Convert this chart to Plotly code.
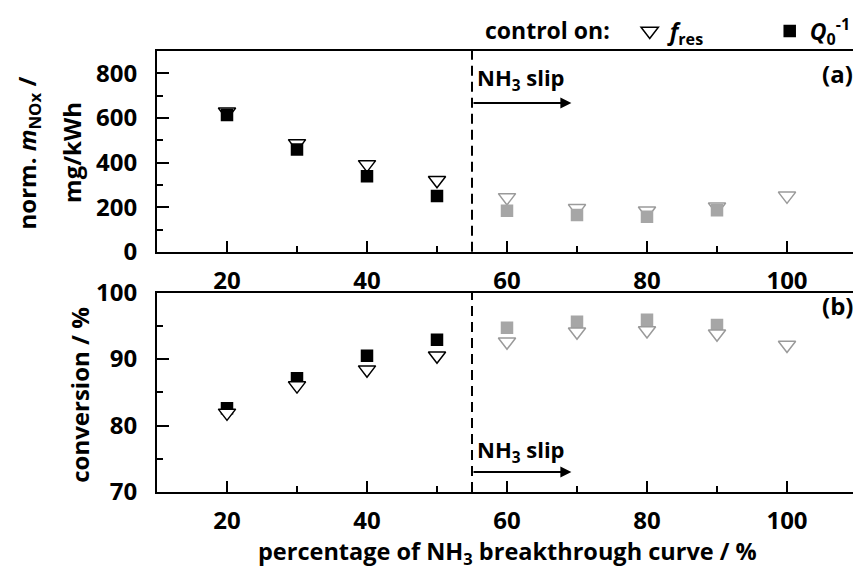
import plotly.graph_objects as go

# ---------------- data ----------------
breakthrough_pct = [20, 30, 40, 50, 60, 70, 80, 90, 100]
breakthrough_pct_q = [20, 30, 40, 50, 60, 70, 80, 90]
slip_start = [55]

# (a) normalised NOx mass, mg/kWh
nox_fres = [628, 486, 392, 321, 244, 195, 184, 202, 251]
nox_q0 = [613, 459, 339, 250, 184, 165, 157, 187]

# (b) conversion, %
conv_fres = [81.9, 86.0, 88.4, 90.5, 92.6, 94.1, 94.3, 93.8, 92.1]
conv_q0 = [82.6, 87.1, 90.5, 92.9, 94.7, 95.6, 95.9, 95.1]

BLACK = "#000000"
GRAY = "#a6a6a6"
GRAY_T = "#9a9a9a"


def col(xs, c_pre, c_post):
    return [c_pre if x < slip_start[0] else c_post for x in xs]


FONT = "Open Sans"

fig = go.Figure()

tri = dict(symbol="triangle-down", size=15, color="white")
sq = dict(symbol="square", size=12.5)

# top panel: triangles then squares
fig.add_trace(go.Scatter(
    x=breakthrough_pct, y=nox_fres, mode="markers", xaxis="x", yaxis="y",
    name="<i>f</i><sub>res</sub>", showlegend=True, legendrank=1,
    marker=dict(**tri, line=dict(color=col(breakthrough_pct, BLACK, GRAY_T), width=1.5)),
))
fig.add_trace(go.Scatter(
    x=breakthrough_pct_q, y=nox_q0, mode="markers", xaxis="x", yaxis="y",
    name="<i>Q</i><sub>0</sub><sup>-1</sup>", showlegend=True, legendrank=2,
    marker=dict(**sq, color=col(breakthrough_pct_q, BLACK, GRAY), line=dict(width=0)),
))
# bottom panel: squares then triangles
fig.add_trace(go.Scatter(
    x=breakthrough_pct_q, y=conv_q0, mode="markers", xaxis="x2", yaxis="y2",
    showlegend=False,
    marker=dict(**sq, color=col(breakthrough_pct_q, BLACK, GRAY), line=dict(width=0)),
))
fig.add_trace(go.Scatter(
    x=breakthrough_pct, y=conv_fres, mode="markers", xaxis="x2", yaxis="y2",
    showlegend=False,
    marker=dict(**tri, line=dict(color=col(breakthrough_pct, BLACK, GRAY_T), width=1.5)),
))

W, H = 853, 569
L, R, T, B = 157, 0, 51, 76.7
pw = W - L - R
ph = H - T - B


def px_x(p):
    return (p - L) / pw


def px_y(p):
    return (H - B - p) / ph


top_dom = [px_y(252), 1.0]
bot_dom = [0.0, px_y(292.7)]

xr = [10, 10 + pw / 7.0]

tickfont = dict(family=FONT, size=24, color="black", weight="bold")

xcommon = dict(
    range=xr, showline=True, linewidth=2, linecolor="black", mirror=True,
    ticks="inside", ticklen=11, tickwidth=2, tickcolor="black",
    tick0=0, dtick=20, showgrid=False, zeroline=False,
    minor=dict(ticks="inside", ticklen=6, tickwidth=2, tickcolor="black", dtick=10, tick0=0, showgrid=False),
    tickfont=tickfont, ticklabelstandoff=6,
)
ycommon = dict(
    showline=True, linewidth=2, linecolor="black", mirror=False,
    ticks="inside", ticklen=12, tickwidth=2, tickcolor="black",
    showgrid=False, zeroline=False, tickfont=tickfont, ticklabelstandoff=13,
)

fig.update_layout(
    width=W, height=H,
    margin=dict(l=L, r=R, t=T, b=B, pad=0, autoexpand=False),
    paper_bgcolor="white", plot_bgcolor="white",
    font=dict(family=FONT, size=24, color="black", weight="bold"),
    xaxis=dict(**xcommon, anchor="y", domain=[0, 1]),
    yaxis=dict(**ycommon, domain=top_dom, range=[0, 900], tick0=0, dtick=200,
               minor=dict(ticks="inside", ticklen=6, tickwidth=2, tickcolor="black", dtick=100, tick0=0, showgrid=False)),
    xaxis2=dict(**xcommon, anchor="y2", domain=[0, 1]),
    yaxis2=dict(**ycommon, domain=bot_dom, range=[70, 100], tick0=70, dtick=10,
                minor=dict(ticks="inside", ticklen=6, tickwidth=2, tickcolor="black", dtick=5, tick0=70, showgrid=False)),
    showlegend=True,
    legend=dict(
        orientation="h", x=px_x(483), y=px_y(31), xanchor="left", yanchor="middle",
        title=dict(text="control on:&nbsp;&nbsp;", side="left", font=dict(family=FONT, size=23, weight="bold")),
        font=dict(family=FONT, size=23, weight="bold"),
        bgcolor="rgba(0,0,0,0)", borderwidth=0, itemwidth=30,
        entrywidth=95, entrywidthmode="pixels", traceorder="normal",
    ),
)

# dashed "slip" lines in both panels
for xa, ya in (("x", "y"), ("x2", "y2")):
    fig.add_shape(type="line", xref=xa, yref=f"{ya} domain", x0=slip_start[0], x1=slip_start[0],
                  y0=0, y1=1, line=dict(color="black", width=2, dash="10px,6px"))

anns = []
# arrows
arrow_end = [69.2]
for xa, ya, yv, ytxt in (("x", "y", 667, 774), ("x2", "y2", 73.0, 76.1)):
    anns.append(dict(x=arrow_end[0], y=yv, ax=slip_start[0], ay=yv, xref=xa, yref=ya, axref=xa, ayref=ya,
                     showarrow=True, arrowhead=2, arrowsize=1.1, arrowwidth=2, arrowcolor="black", text=""))
    anns.append(dict(x=slip_start[0] + 0.4, y=ytxt, xref=xa, yref=ya, xanchor="left", yanchor="middle",
                     showarrow=False, text="NH<sub>3</sub> slip",
                     font=dict(family=FONT, size=22, weight="bold", color="black")))

lab_font = dict(family=FONT, size=24, weight="bold", color="black")
anns += [
    dict(x=px_x(28), y=px_y(153.5), xref="paper", yref="paper", textangle=-90, showarrow=False,
         xanchor="center", yanchor="middle", text="norm. <i>m</i><sub>NOx</sub> /", font=lab_font),
    dict(x=px_x(72), y=px_y(153), xref="paper", yref="paper", textangle=-90, showarrow=False,
         xanchor="center", yanchor="middle", text="mg/kWh", font=lab_font),
    dict(x=px_x(80), y=px_y(395), xref="paper", yref="paper", textangle=-90, showarrow=False,
         xanchor="center", yanchor="middle", text="conversion / %", font=lab_font),
    dict(x=px_x(507.5), y=px_y(553), xref="paper", yref="paper", showarrow=False,
         xanchor="center", yanchor="middle", text="percentage of NH<sub>3</sub> breakthrough curve / %",
         font=dict(family=FONT, size=23.5, weight="bold", color="black")),
    dict(x=px_x(855), y=px_y(74), xref="paper", yref="paper", showarrow=False,
         xanchor="right", yanchor="middle", text="(a)", font=lab_font),
    dict(x=px_x(855), y=px_y(306), xref="paper", yref="paper", showarrow=False,
         xanchor="right", yanchor="middle", text="(b)", font=lab_font),
]
fig.update_layout(annotations=anns)

fig.write_html("out.html")
